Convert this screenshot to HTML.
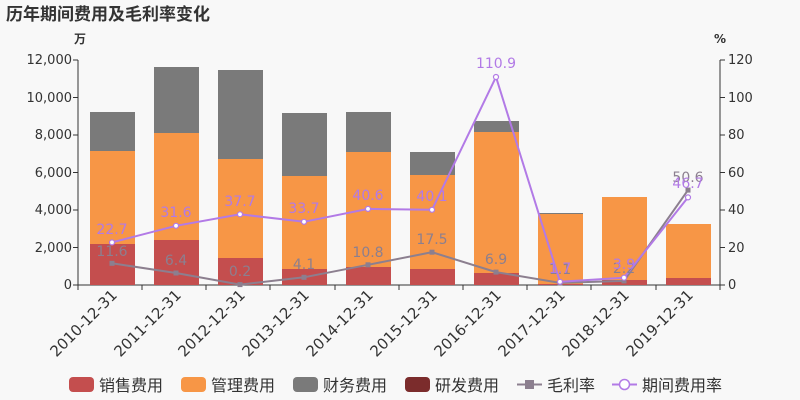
<!DOCTYPE html>
<html><head><meta charset="utf-8"><style>
body{margin:0;background:#f8f8f8;}
svg{display:block;font-family:"DejaVu Sans","Noto Sans CJK SC",sans-serif;}
</style></head><body>
<svg width="800" height="400" viewBox="0 0 800 400">
<rect width="800" height="400" fill="#f8f8f8"/>
<text x="6" y="20" font-size="17" font-weight="bold" fill="#333">历年期间费用及毛利率变化</text>
<text x="80" y="43" font-size="12" fill="#333" text-anchor="middle" font-weight="bold">万</text>
<text x="720" y="43" font-size="12" fill="#333" text-anchor="middle" font-weight="bold">%</text>
<g font-size="13" fill="#333">
<text x="72" y="289" text-anchor="end">0</text>
<text x="72" y="252" text-anchor="end">2,000</text>
<text x="72" y="214" text-anchor="end">4,000</text>
<text x="72" y="177" text-anchor="end">6,000</text>
<text x="72" y="139" text-anchor="end">8,000</text>
<text x="72" y="102" text-anchor="end">10,000</text>
<text x="72" y="64" text-anchor="end">12,000</text>
<text x="728" y="289">0</text>
<text x="728" y="252">20</text>
<text x="728" y="214">40</text>
<text x="728" y="177">60</text>
<text x="728" y="139">80</text>
<text x="728" y="102">100</text>
<text x="728" y="64">120</text>
</g>
<g stroke="#333" stroke-width="1">
<line x1="78" y1="60" x2="78" y2="285"/><line x1="720" y1="60" x2="720" y2="285"/>
<line x1="78" y1="285" x2="720" y2="285"/>
<line x1="73" y1="60" x2="78" y2="60"/><line x1="73" y1="97.5" x2="78" y2="97.5"/><line x1="73" y1="135" x2="78" y2="135"/><line x1="73" y1="172.5" x2="78" y2="172.5"/><line x1="73" y1="210" x2="78" y2="210"/><line x1="73" y1="247.5" x2="78" y2="247.5"/><line x1="73" y1="285" x2="78" y2="285"/>
<line x1="720" y1="60" x2="725" y2="60"/><line x1="720" y1="97.5" x2="725" y2="97.5"/><line x1="720" y1="135" x2="725" y2="135"/><line x1="720" y1="172.5" x2="725" y2="172.5"/><line x1="720" y1="210" x2="725" y2="210"/><line x1="720" y1="247.5" x2="725" y2="247.5"/><line x1="720" y1="285" x2="725" y2="285"/>
<line x1="78" y1="285" x2="78" y2="290"/><line x1="142" y1="285" x2="142" y2="290"/><line x1="206" y1="285" x2="206" y2="290"/><line x1="270" y1="285" x2="270" y2="290"/><line x1="335" y1="285" x2="335" y2="290"/><line x1="399" y1="285" x2="399" y2="290"/><line x1="463" y1="285" x2="463" y2="290"/><line x1="527" y1="285" x2="527" y2="290"/><line x1="591" y1="285" x2="591" y2="290"/><line x1="656" y1="285" x2="656" y2="290"/><line x1="720" y1="285" x2="720" y2="290"/>
</g>
<g>
<rect x="90" y="112" width="45" height="39" fill="#7a7a7a"/><rect x="90" y="151" width="45" height="93" fill="#f79646"/><rect x="90" y="244" width="45" height="41" fill="#c44e4e"/>
<rect x="154" y="67" width="45" height="66" fill="#7a7a7a"/><rect x="154" y="133" width="45" height="107" fill="#f79646"/><rect x="154" y="240" width="45" height="45" fill="#c44e4e"/>
<rect x="218" y="70" width="45" height="89" fill="#7a7a7a"/><rect x="218" y="159" width="45" height="99" fill="#f79646"/><rect x="218" y="258" width="45" height="27" fill="#c44e4e"/>
<rect x="282" y="113" width="45" height="63" fill="#7a7a7a"/><rect x="282" y="176" width="45" height="93" fill="#f79646"/><rect x="282" y="269" width="45" height="16" fill="#c44e4e"/>
<rect x="346" y="112" width="45" height="40" fill="#7a7a7a"/><rect x="346" y="152" width="45" height="115" fill="#f79646"/><rect x="346" y="267" width="45" height="18" fill="#c44e4e"/>
<rect x="410" y="152" width="45" height="23" fill="#7a7a7a"/><rect x="410" y="175" width="45" height="94" fill="#f79646"/><rect x="410" y="269" width="45" height="16" fill="#c44e4e"/>
<rect x="474" y="121" width="45" height="11" fill="#7a7a7a"/><rect x="474" y="132" width="45" height="141" fill="#f79646"/><rect x="474" y="273" width="45" height="12" fill="#c44e4e"/>
<rect x="538" y="213" width="45" height="1" fill="#7a7a7a"/><rect x="538" y="214" width="45" height="70" fill="#f79646"/><rect x="538" y="284" width="45" height="1" fill="#c44e4e"/>
<rect x="602" y="197" width="45" height="83" fill="#f79646"/><rect x="602" y="280" width="45" height="5" fill="#c44e4e"/>
<rect x="666" y="224" width="45" height="54" fill="#f79646"/><rect x="666" y="278" width="45" height="7" fill="#c44e4e"/>
</g>
<polyline fill="none" stroke="#8c7f8f" stroke-width="2" points="112,263.3 176,273 240,284.6 304,277.3 368,264.8 432,252.2 496,272.1 560,282.9 624,280.9 688,190.1"/>
<g fill="#8c7f8f"><rect x="109.5" y="260.8" width="5" height="5"/><rect x="173.5" y="270.5" width="5" height="5"/><rect x="237.5" y="282.1" width="5" height="5"/><rect x="301.5" y="274.8" width="5" height="5"/><rect x="365.5" y="262.3" width="5" height="5"/><rect x="429.5" y="249.7" width="5" height="5"/><rect x="493.5" y="269.6" width="5" height="5"/><rect x="557.5" y="280.4" width="5" height="5"/><rect x="621.5" y="278.4" width="5" height="5"/><rect x="685.5" y="187.6" width="5" height="5"/></g>
<polyline fill="none" stroke="#b27ae6" stroke-width="2" points="112,242.4 176,225.8 240,214.3 304,221.8 368,208.9 432,209.8 496,77 560,281.8 624,277.7 688,197.4"/>
<g fill="#fff" stroke="#b27ae6" stroke-width="1.2"><circle cx="112" cy="242.4" r="2.5"/><circle cx="176" cy="225.8" r="2.5"/><circle cx="240" cy="214.3" r="2.5"/><circle cx="304" cy="221.8" r="2.5"/><circle cx="368" cy="208.9" r="2.5"/><circle cx="432" cy="209.8" r="2.5"/><circle cx="496" cy="77" r="2.5"/><circle cx="560" cy="281.8" r="2.5"/><circle cx="624" cy="277.7" r="2.5"/><circle cx="688" cy="197.4" r="2.5"/></g>
<g font-size="14" fill="#8c7f8f" text-anchor="middle">
<text x="112" y="256">11.6</text><text x="176" y="265">6.4</text><text x="240" y="276">0.2</text><text x="304" y="269">4.1</text><text x="368" y="257">10.8</text><text x="432" y="244">17.5</text><text x="496" y="264">6.9</text><text x="560" y="274">1.1</text><text x="624" y="273">2.2</text><text x="688" y="182">50.6</text>
</g>
<g font-size="14" fill="#b27ae6" text-anchor="middle">
<text x="112" y="234">22.7</text><text x="176" y="217">31.6</text><text x="240" y="206">37.7</text><text x="304" y="213">33.7</text><text x="368" y="200">40.6</text><text x="432" y="201">40.1</text><text x="496" y="68">110.9</text><text x="560" y="273">1.7</text><text x="624" y="269">3.9</text><text x="688" y="188">46.7</text>
</g>
<g font-size="15" fill="#333" text-anchor="end">
<text transform="translate(118,296) rotate(-45)">2010-12-31</text>
<text transform="translate(182,296) rotate(-45)">2011-12-31</text>
<text transform="translate(246,296) rotate(-45)">2012-12-31</text>
<text transform="translate(310,296) rotate(-45)">2013-12-31</text>
<text transform="translate(374,296) rotate(-45)">2014-12-31</text>
<text transform="translate(438,296) rotate(-45)">2015-12-31</text>
<text transform="translate(502,296) rotate(-45)">2016-12-31</text>
<text transform="translate(566,296) rotate(-45)">2017-12-31</text>
<text transform="translate(630,296) rotate(-45)">2018-12-31</text>
<text transform="translate(694,296) rotate(-45)">2019-12-31</text>
</g>
<g font-size="16" fill="#333">
<rect x="69" y="377" width="25" height="15" rx="4" fill="#c44e4e"/><text x="99" y="391">销售费用</text>
<rect x="181" y="377" width="25" height="15" rx="4" fill="#f79646"/><text x="211" y="391">管理费用</text>
<rect x="293" y="377" width="25" height="15" rx="4" fill="#7a7a7a"/><text x="323" y="391">财务费用</text>
<rect x="405" y="377" width="25" height="15" rx="4" fill="#7b2c2c"/><text x="435" y="391">研发费用</text>
<line x1="517" y1="384.5" x2="542" y2="384.5" stroke="#8c7f8f" stroke-width="2"/><rect x="525" y="380" width="9" height="9" fill="#8c7f8f"/><text x="547" y="391">毛利率</text>
<line x1="612" y1="384.5" x2="637" y2="384.5" stroke="#b27ae6" stroke-width="2"/><circle cx="624.5" cy="384.5" r="5" fill="#fff" stroke="#b27ae6" stroke-width="1.5"/><text x="642" y="391">期间费用率</text>
</g>
</svg>
</body></html>
